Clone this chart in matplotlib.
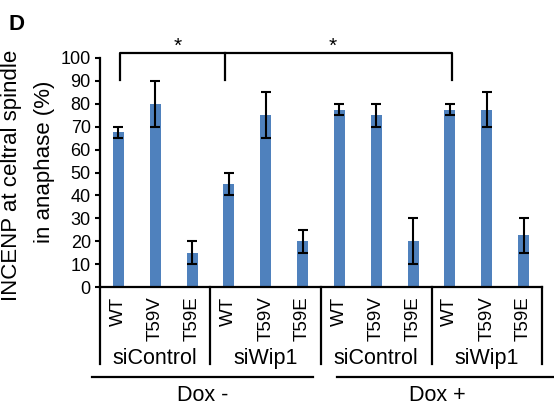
import matplotlib
matplotlib.use("Agg")
import matplotlib.pyplot as plt
import numpy as np

plt.rcParams['font.family'] = ['Liberation Sans', 'DejaVu Sans']

categories = ["WT", "T59V", "T59E"] * 4
values = [67.5, 80, 15, 45, 75, 20, 77.5, 75, 20, 77.5, 77.5, 22.5]
errors = [2.5, 10, 5, 5, 10, 5, 2.5, 5, 10, 2.5, 7.5, 7.5]
groups = ["siControl", "siWip1", "siControl", "siWip1"]
dox_labels = ["Dox -", "Dox +"]
yticks = list(range(0, 101, 10))

fig = plt.figure(figsize=(5.54, 4.07), dpi=100)
ax = fig.add_axes([100/554, 1-287/407, 442/554, 229/407])

x = np.arange(len(values))
ax.bar(x, values, width=0.3, color="#4F81BD", zorder=2)
ax.errorbar(x, values, yerr=errors, fmt='none', ecolor='black',
            elinewidth=1.5, capsize=3.5, capthick=1.5, zorder=3)

ax.set_xlim(-0.5, len(values) - 0.5)
ax.set_ylim(0, 100)
ax.set_yticks(yticks)
ax.set_yticklabels([str(t) for t in yticks], fontsize=13)
ax.set_xticks(x)
ax.set_xticklabels(categories, rotation=90, fontsize=13.5, va='top')
ax.tick_params(axis='x', length=0, pad=7)
ax.tick_params(axis='y', length=3.6, width=1.5, pad=3)
for s in ['top', 'right']:
    ax.spines[s].set_visible(False)
for s in ['left', 'bottom']:
    ax.spines[s].set_linewidth(1.6)

lw = 1.6
# group separators
for b in [-0.5, 2.5, 5.5, 8.5, 11.5]:
    ax.plot([b, b], [0, -33.6], color='black', lw=lw, clip_on=False)
for i, g in enumerate(groups):
    ax.text(3*i + 1, -33.6, g, ha='center', va='baseline', fontsize=15.5)

# Dox lines
ax.plot([-0.72, 5.29], [-39.1, -39.1], color='black', lw=lw, clip_on=False)
ax.plot([5.94, 12.5], [-39.1, -39.1], color='black', lw=lw, clip_on=False)
ax.text(2.3, -49.8, dox_labels[0], ha='center', va='baseline', fontsize=15.5)
ax.text(8.65, -49.8, dox_labels[1], ha='center', va='baseline', fontsize=15.5)

# significance brackets
top = 102.3
leg = 90.4
ax.plot([0.04, 0.04, 9.06, 9.06], [leg, top, top, leg], color='black', lw=lw, clip_on=False)
ax.plot([2.9, 2.9], [top, leg], color='black', lw=lw, clip_on=False)
ax.text(1.62, 102.8, "*", ha='center', va='baseline', fontsize=15)
ax.text(5.83, 102.8, "*", ha='center', va='baseline', fontsize=15)

# y label (two lines)
fig.text(12/554, 1-175/407, "INCENP at celtral spindle", rotation=90,
         ha='center', va='center', fontsize=16)
fig.text(45/554, 1-162/407, "in anaphase (%)", rotation=90,
         ha='center', va='center', fontsize=16)

fig.text(8/554, 1-30/407, "D", fontsize=16, fontweight='bold', ha='left', va='baseline')

fig.savefig("out.png", dpi=100)
